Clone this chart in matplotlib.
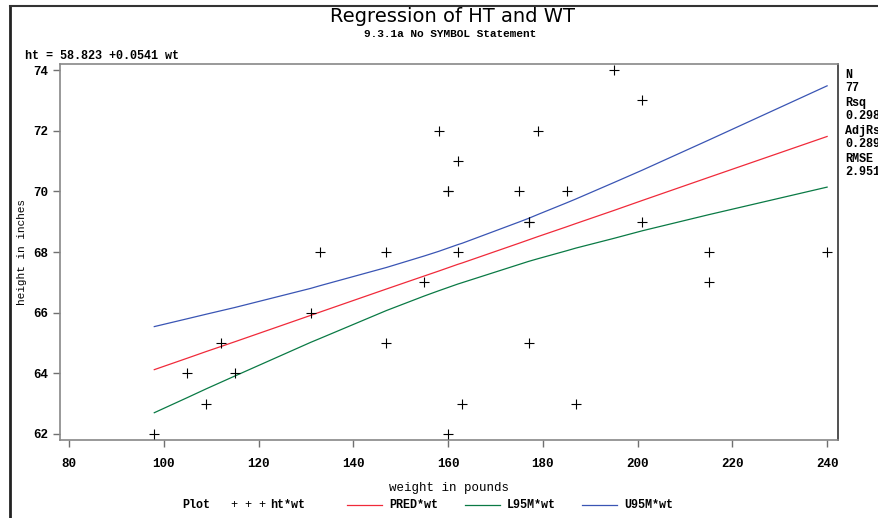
import matplotlib
matplotlib.use("Agg")
import matplotlib.pyplot as plt
from matplotlib.lines import Line2D

wt = [98, 105, 109, 112, 115, 131, 133, 147, 147, 155, 158, 160, 160, 160,
      162, 162, 163, 175, 177, 177, 177, 179, 185, 187, 195, 201, 201, 215, 215, 240]
ht = [62, 64, 63, 65, 64, 66, 68, 68, 65, 67, 72, 70, 62, 70,
      71, 68, 63, 70, 69, 65, 69, 72, 70, 63, 74, 73, 69, 68, 67, 68]

# fitted line and 95% mean limits, read at the sorted distinct weights
x_fit = [98, 105, 109, 112, 115, 131, 133, 147, 155, 158, 160, 162, 163,
         175, 177, 179, 185, 187, 195, 201, 215, 240]
pred = [64.12, 64.50, 64.72, 64.88, 65.04, 65.91, 66.02, 66.78, 67.21, 67.37, 67.48,
        67.59, 67.64, 68.29, 68.40, 68.51, 68.83, 68.94, 69.37, 69.70, 70.46, 71.81]
l95m = [62.70, 63.20, 63.49, 63.70, 63.91, 65.02, 65.15, 66.07, 66.55, 66.72, 66.83,
        66.94, 66.99, 67.59, 67.69, 67.78, 68.04, 68.13, 68.45, 68.70, 69.23, 70.14]
u95m = [65.54, 65.80, 65.95, 66.06, 66.17, 66.80, 66.89, 67.49, 67.87, 68.02, 68.13,
        68.24, 68.29, 68.99, 69.11, 69.24, 69.62, 69.75, 70.29, 70.70, 71.69, 73.48]

# stats box as visible at the right page edge
stats = [("N", "77"), ("Rsq", "0.298"), ("AdjRs", "0.289"), ("RMSE", "2.951")]

mono = ["Liberation Mono", "DejaVu Sans Mono"]

fig = plt.figure(figsize=(8.79, 5.18), dpi=100)
ax = fig.add_axes([60 / 879, 1 - 440 / 518, 778 / 879, 376 / 518])

ax.plot(x_fit, u95m, color="#3a55b4", linewidth=0.9)
ax.plot(x_fit, pred, color="#f02a3a", linewidth=0.9)
ax.plot(x_fit, l95m, color="#0a7a45", linewidth=0.9)
ax.scatter(wt, ht, marker="+", color="black", s=45, linewidths=0.8, zorder=3)

ax.set_xlim(78.1, 242.3)
ax.set_ylim(61.8, 74.2)
ax.set_xticks(range(80, 241, 20))
ax.set_yticks(range(62, 75, 2))
for lab in ax.get_xticklabels() + ax.get_yticklabels():
    lab.set_family(mono)
    lab.set_fontweight("bold")
    lab.set_fontsize(9)
ax.tick_params(direction="out", length=5, color="#707070", width=1)
ax.tick_params(axis="x", pad=8)
for side in ["left", "top", "bottom"]:
    ax.spines[side].set_color("#888888")
ax.spines["right"].set_color("#333333")
for s in ax.spines.values():
    s.set_linewidth(1.2)

ax.set_xlabel("weight in pounds", family=mono, fontsize=9)
ax.xaxis.set_label_coords(0.5, -42 / 376)
ax.set_ylabel("height in inches", family=mono, fontsize=8)
ax.yaxis.set_label_coords(-33 / 778, 0.5)

fig.text(453 / 879, 1 - 16 / 518, "Regression of HT and WT",
         family=["Liberation Sans Narrow", "DejaVu Sans"], fontsize=14,
         ha="center", va="center")
fig.text(450 / 879, 1 - 34 / 518, "9.3.1a No SYMBOL Statement",
         family=mono, fontsize=8, fontweight="bold", ha="center", va="center")
fig.text(25 / 879, 1 - 56 / 518, "ht = 58.823 +0.0541 wt",
         family=mono, fontsize=8.5, fontweight="bold", ha="left", va="center")

y0 = 75
for name, val in stats:
    fig.text(845 / 879, 1 - y0 / 518, name, family=mono, fontsize=8.5,
             fontweight="bold", va="center")
    fig.text(845 / 879, 1 - (y0 + 13) / 518, val, family=mono, fontsize=8.5,
             fontweight="bold", va="center")
    y0 += 28

# legend row
ly = 1 - 505 / 518
fs = 8.5
fig.text(182 / 879, ly, "Plot", family=mono, fontsize=fs, fontweight="bold", va="center")
fig.text(231 / 879, ly, "+ + +", family=mono, fontsize=fs, va="center")
fig.text(270 / 879, ly, "ht*wt", family=mono, fontsize=fs, fontweight="bold", va="center")
for x0, col, name in [(347, "#f02a3a", "PRED*wt"), (465, "#0a7a45", "L95M*wt"),
                      (582, "#3a55b4", "U95M*wt")]:
    fig.add_artist(Line2D([x0 / 879, (x0 + 35) / 879], [ly, ly], color=col,
                          linewidth=0.9, transform=fig.transFigure))
    fig.text((x0 + 42) / 879, ly, name, family=mono, fontsize=fs,
             fontweight="bold", va="center")

# page border lines
fig.add_artist(Line2D([10 / 879, 10 / 879], [0, 1 - 6 / 518], color="#222222",
                      linewidth=2, transform=fig.transFigure))
fig.add_artist(Line2D([10 / 879, 1], [1 - 6 / 518, 1 - 6 / 518], color="#333333",
                      linewidth=1.5, transform=fig.transFigure))

fig.savefig("out.png", dpi=100)
